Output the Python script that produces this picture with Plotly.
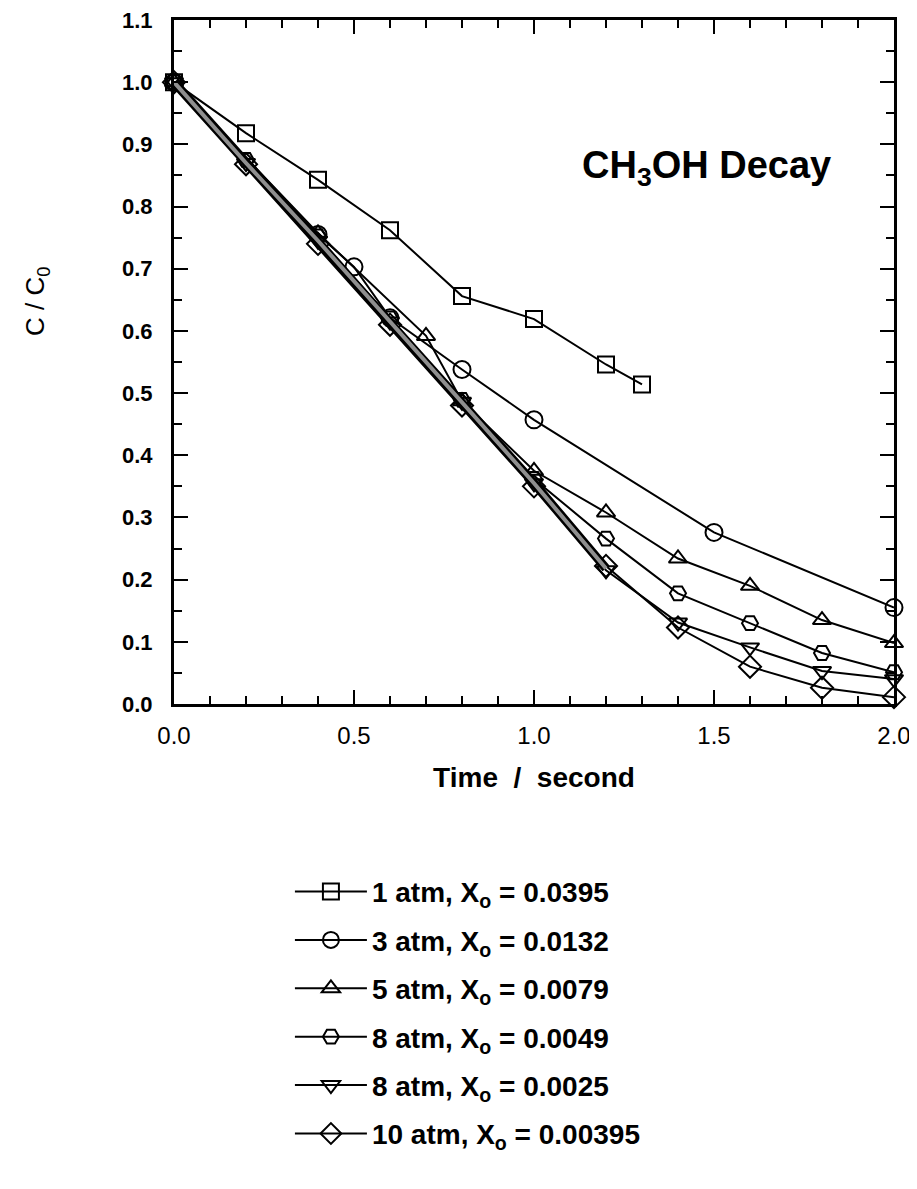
import plotly.graph_objects as go

# ---- data ----
x_1atm = [0.0, 0.2, 0.4, 0.6, 0.8, 1.0, 1.2, 1.3]
y_1atm = [1.0, 0.918, 0.843, 0.762, 0.656, 0.619, 0.546, 0.514]

x_3atm = [0.0, 0.4, 0.5, 0.6, 0.8, 1.0, 1.5, 2.0]
y_3atm = [1.0, 0.755, 0.703, 0.621, 0.538, 0.457, 0.276, 0.155]

x_5atm = [0.0, 0.4, 0.7, 0.8, 1.0, 1.2, 1.4, 1.6, 1.8, 2.0]
y_5atm = [1.0, 0.757, 0.592, 0.487, 0.375, 0.308, 0.234, 0.190, 0.135, 0.098]

x_8atm_a = [0.0, 0.2, 0.4, 0.6, 0.8, 1.0, 1.2, 1.4, 1.6, 1.8, 2.0]
y_8atm_a = [1.0, 0.875, 0.752, 0.620, 0.489, 0.362, 0.266, 0.178, 0.130, 0.082, 0.051]

x_8atm_b = [0.0, 0.2, 0.4, 0.6, 0.8, 1.0, 1.2, 1.4, 1.6, 1.8, 2.0]
y_8atm_b = [1.0, 0.870, 0.745, 0.615, 0.486, 0.355, 0.215, 0.131, 0.091, 0.053, 0.040]

x_10atm = [0.0, 0.2, 0.4, 0.6, 0.8, 1.0, 1.2, 1.4, 1.6, 1.8, 2.0]
y_10atm = [1.0, 0.868, 0.740, 0.610, 0.480, 0.350, 0.222, 0.123, 0.060, 0.026, 0.011]

# overlapping grey band (high-pressure curves coincide up to 1.2 s)
band_x = [0.0, 0.2, 0.4, 0.6, 0.8, 1.0, 1.2]
band_y = [1.0, 0.870, 0.745, 0.615, 0.485, 0.355, 0.218]

series_names = [
    "1 atm, X<sub>o</sub> = 0.0395",
    "3 atm, X<sub>o</sub> = 0.0132",
    "5 atm, X<sub>o</sub> = 0.0079",
    "8 atm, X<sub>o</sub> = 0.0049",
    "8 atm, X<sub>o</sub> = 0.0025",
    "10 atm, X<sub>o</sub> = 0.00395",
]
x_ticks = [0.0, 0.5, 1.0, 1.5, 2.0]
x_tick_labels = ["0.0", "0.5", "1.0", "1.5", "2.0"]
y_ticks = [0.0, 0.1, 0.2, 0.3, 0.4, 0.5, 0.6, 0.7, 0.8, 0.9, 1.0, 1.1]
y_tick_labels = ["0.0", "0.1", "0.2", "0.3", "0.4", "0.5", "0.6", "0.7", "0.8", "0.9", "1.0", "1.1"]

FONT = "Liberation Sans, Arial, sans-serif"

fig = go.Figure()

# band underlay (dark edges)
fig.add_trace(go.Scatter(x=band_x, y=band_y, mode="lines",
                         line=dict(color="black", width=9), showlegend=False,
                         hoverinfo="skip"))

data = [
    (x_1atm, y_1atm, "square-open", 16),
    (x_3atm, y_3atm, "circle-open", 17),
    (x_5atm, y_5atm, "triangle-up-open", 16),
    (x_8atm_a, y_8atm_a, "hexagon2-open", 16),
    (x_8atm_b, y_8atm_b, "triangle-down-open", 16),
    (x_10atm, y_10atm, "diamond-open", 17),
]
for i, ((xs, ys, sym, sz), name) in enumerate(zip(data, series_names)):
    fig.add_trace(go.Scatter(
        x=xs, y=ys, mode="lines+markers", name=f"<b>{name}</b>",
        line=dict(color="black", width=2),
        marker=dict(symbol=sym, size=sz, color="black", line=dict(color="black", width=2)),
        legendgroup=f"g{i}", cliponaxis=False,
    ))

# band grey core on top
fig.add_trace(go.Scatter(x=band_x, y=band_y, mode="lines",
                         line=dict(color="#8f8f8f", width=4), showlegend=False,
                         hoverinfo="skip"))

fig.add_annotation(x=1.478, y=0.862, xref="x", yref="y",
                   text="<b>CH<sub>3</sub>OH Decay</b>", showarrow=False,
                   font=dict(family=FONT, size=38, color="black"))

fig.add_annotation(x=-0.19, y=0.588, xref="paper", yref="paper",
                   xanchor="center", yanchor="middle",
                   text="C / C<sub>0</sub>", textangle=-90, showarrow=False,
                   font=dict(family=FONT, size=26, color="black"))

fig.update_layout(
    width=917, height=1189,
    margin=dict(l=166, r=31, t=12, b=493),
    plot_bgcolor="white", paper_bgcolor="white",
    font=dict(family=FONT, color="black"),
    showlegend=True,
    legend=dict(x=0.161, y=-0.238, xanchor="left", yanchor="top",
                font=dict(family=FONT, size=28, color="black"),
                tracegroupgap=9, bgcolor="rgba(0,0,0,0)",
                itemwidth=72),
)
fig.update_xaxes(
    range=[0, 2.0], tickmode="array", tickvals=x_ticks, ticktext=x_tick_labels,
    ticks="inside", ticklen=14, tickwidth=2, tickcolor="black",
    minor=dict(dtick=0.1, ticks="inside", ticklen=8, tickwidth=2, tickcolor="black"),
    showline=True, linewidth=3, linecolor="black", mirror="allticks",
    showgrid=False, zeroline=False, automargin=False,
    tickfont=dict(family=FONT, size=24, color="black"),
    ticklabelstandoff=8, ticklabeloverflow="allow",
    title=dict(text="<b>Time  /  second</b>", font=dict(family=FONT, size=28, color="black"), standoff=20),
)
fig.update_yaxes(
    range=[0, 1.1], tickmode="array", tickvals=y_ticks,
    ticktext=[f"<b>{t}</b>" for t in y_tick_labels],
    ticks="inside", ticklen=14, tickwidth=2, tickcolor="black",
    minor=dict(dtick=0.05, ticks="inside", ticklen=8, tickwidth=2, tickcolor="black"),
    showline=True, linewidth=3, linecolor="black", mirror="allticks",
    showgrid=False, zeroline=False, automargin=False,
    tickfont=dict(family=FONT, size=22, color="black"),
    ticklabelstandoff=14, ticklabeloverflow="allow",
)

fig.write_html("out.html")
